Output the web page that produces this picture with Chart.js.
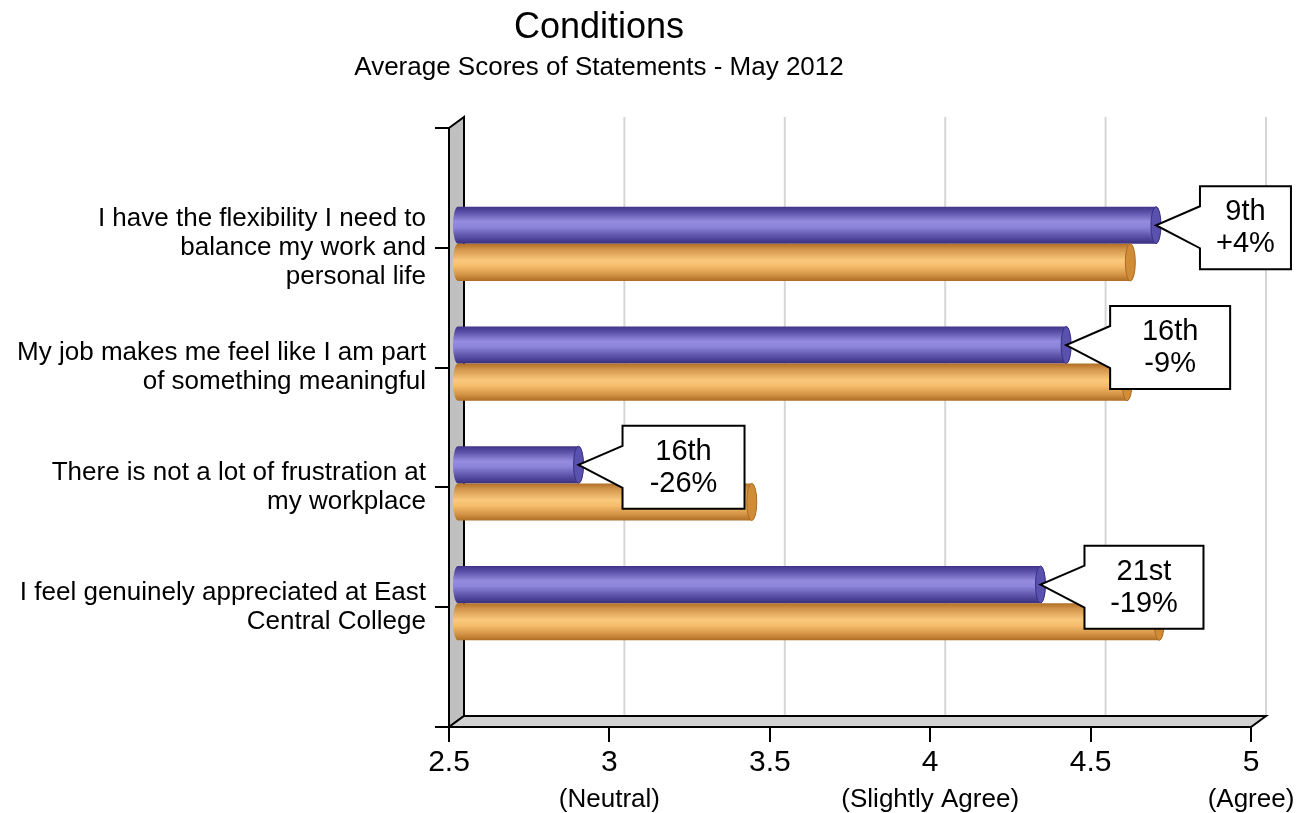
<!DOCTYPE html>
<html>
<head>
<meta charset="utf-8">
<title>Conditions</title>
<script src="https://cdn.jsdelivr.net/npm/chart.js@4.4.0/dist/chart.umd.min.js"></script>
<style>
  html, body { margin: 0; padding: 0; background: #fff; }
  #wrap { width: 1310px; height: 813px; }
</style>
</head>
<body>
<div id="wrap"><canvas id="chart" width="1310" height="813"></canvas></div>
<script>
// statements on the y axis, one entry per label line
const statements = [
  ["I have the flexibility I need to", "balance my work and", "personal life"],
  ["My job makes me feel like I am part", "of something meaningful"],
  ["There is not a lot of frustration at", "my workplace"],
  ["I feel genuinely appreciated at East", "Central College"],
];
const scoresCollege = [4.71, 4.43, 2.91, 4.35];     // purple bars
const scoresComparison = [4.63, 4.62, 3.45, 4.72];  // orange bars
const ranks = ["9th", "16th", "16th", "21st"];
const changes = ["+4%", "-9%", "-26%", "-19%"];
const scaleTicks = [2.5, 3, 3.5, 4, 4.5, 5];
const scaleNotes = ["", "(Neutral)", "", "(Slightly Agree)", "", "(Agree)"];

const FONT = "'Liberation Sans', Arial, Helvetica, sans-serif";
const DEPTH = { dx: 15, dy: -11 };     // back plane of the 3d frame
const BAR_SHIFT = { dx: 3, dy: -4 };   // bars sit a little inside the frame
const CAP_R = 5;
const CALLOUT_W = [91, 120, 122, 119];
const SHADES = [
  {
    stops: [[0, "#3f3487"], [0.15, "#5a50a8"], [0.4, "#958ce0"], [0.55, "#8c84d8"], [0.8, "#5b51a8"], [1, "#392f7e"]],
    cap: "#5a50ad", edge: "#3b3184",
  },
  {
    stops: [[0, "#b06e26"], [0.15, "#d2954a"], [0.45, "#fac87c"], [0.6, "#f5bd6c"], [0.85, "#d09042"], [1, "#ad6c24"]],
    cap: "#d08c36", edge: "#ad6c22",
  },
];

// slots 0 and n+1 are empty so the statements sit on whole-number ticks
const slots = Array.from({ length: statements.length + 2 }, (_, i) => i);

function polygon(ctx, pts) {
  ctx.beginPath();
  pts.forEach(([px, py], i) => (i ? ctx.lineTo(px, py) : ctx.moveTo(px, py)));
  ctx.closePath();
  ctx.fill();
  ctx.stroke();
}

// title, back grid lines, side wall and floor
const frame3d = {
  id: "frame3d",
  beforeDraw(chart) {
    const { ctx, chartArea: a } = chart;
    const x = chart.scales.x;
    ctx.save();
    ctx.fillStyle = "#000";
    ctx.textAlign = "center";
    ctx.textBaseline = "alphabetic";
    ctx.font = "36px " + FONT;
    ctx.fillText("Conditions", 599, 38);
    ctx.font = "26px " + FONT;
    ctx.fillText("Average Scores of Statements - May 2012", 599, 75);

    ctx.strokeStyle = "#d6d6d6";
    ctx.lineWidth = 2;
    scaleTicks.slice(1).forEach(v => {
      const px = x.getPixelForValue(v) + DEPTH.dx;
      ctx.beginPath();
      ctx.moveTo(px, a.top + DEPTH.dy);
      ctx.lineTo(px, a.bottom + DEPTH.dy);
      ctx.stroke();
    });

    ctx.strokeStyle = "#000";
    ctx.lineJoin = "miter";
    ctx.fillStyle = "#c0c0c0";
    polygon(ctx, [[a.left, a.top], [a.left + DEPTH.dx, a.top + DEPTH.dy],
      [a.left + DEPTH.dx, a.bottom + DEPTH.dy], [a.left, a.bottom]]);
    ctx.fillStyle = "#d2d2d2";
    polygon(ctx, [[a.left, a.bottom], [a.left + DEPTH.dx, a.bottom + DEPTH.dy],
      [a.right + DEPTH.dx, a.bottom + DEPTH.dy], [a.right, a.bottom]]);
    ctx.restore();
  },
};

function drawCylinder(ctx, x0, x1, cy, h, shade) {
  const top = cy - h / 2, bottom = cy + h / 2;
  const g = ctx.createLinearGradient(0, top, 0, bottom);
  shade.stops.forEach(([o, c]) => g.addColorStop(o, c));
  ctx.beginPath();
  ctx.moveTo(x0 + CAP_R, top);
  ctx.lineTo(x1 - CAP_R, top);
  ctx.ellipse(x1 - CAP_R, cy, CAP_R, h / 2, 0, -Math.PI / 2, Math.PI / 2);
  ctx.lineTo(x0 + CAP_R, bottom);
  ctx.ellipse(x0 + CAP_R, cy, CAP_R, h / 2, 0, Math.PI / 2, Math.PI * 1.5);
  ctx.closePath();
  ctx.fillStyle = g;
  ctx.fill();
  ctx.beginPath();
  ctx.ellipse(x1 - CAP_R, cy, CAP_R, h / 2, 0, 0, Math.PI * 2);
  ctx.fillStyle = shade.cap;
  ctx.fill();
  ctx.strokeStyle = shade.edge;
  ctx.lineWidth = 1;
  ctx.stroke();
}

// bars are drawn as cylinders from the bar elements, then the rank callouts
const cylinders = {
  id: "cylinders",
  beforeDatasetDraw() {
    return false;
  },
  afterDatasetsDraw(chart) {
    const ctx = chart.ctx;
    ctx.save();
    chart.data.datasets.forEach((ds, di) => {
      chart.getDatasetMeta(di).data.forEach(bar => {
        const { x, y, base, height } = bar.getProps(["x", "y", "base", "height"], true);
        drawCylinder(ctx, base + BAR_SHIFT.dx, x + BAR_SHIFT.dx, y + BAR_SHIFT.dy, height, SHADES[di]);
      });
    });

    chart.getDatasetMeta(0).data.forEach((bar, i) => {
      const { x, y } = bar.getProps(["x", "y"], true);
      const tipX = x + BAR_SHIFT.dx - CAP_R, tipY = y + BAR_SHIFT.dy;
      const left = tipX + 44, top = tipY - 39, w = CALLOUT_W[i], h = 83;
      ctx.beginPath();
      ctx.moveTo(left, top);
      ctx.lineTo(left + w, top);
      ctx.lineTo(left + w, top + h);
      ctx.lineTo(left, top + h);
      ctx.lineTo(left, tipY + 23);
      ctx.lineTo(tipX, tipY);
      ctx.lineTo(left, tipY - 19);
      ctx.closePath();
      ctx.fillStyle = "#fff";
      ctx.fill();
      ctx.strokeStyle = "#000";
      ctx.lineWidth = 2;
      ctx.lineJoin = "miter";
      ctx.stroke();
      ctx.fillStyle = "#000";
      ctx.font = "29px " + FONT;
      ctx.textAlign = "center";
      ctx.textBaseline = "middle";
      ctx.fillText(ranks[i], left + w / 2, tipY - 13);
      ctx.fillText(changes[i], left + w / 2, tipY + 19);
    });
    ctx.restore();
  },
};

new Chart(document.getElementById("chart"), {
  type: "bar",
  data: {
    datasets: [
      {
        label: "East Central College",
        data: scoresCollege.map((v, i) => ({ x: v, y: i + 1 })),
        base: scaleTicks[0],
        backgroundColor: "#6b62c0",
      },
      {
        label: "Comparison",
        data: scoresComparison.map((v, i) => ({ x: v, y: i + 1 })),
        base: scaleTicks[0],
        backgroundColor: "#eaa652",
      },
    ],
  },
  options: {
    indexAxis: "y",
    responsive: false,
    animation: false,
    events: [],
    categoryPercentage: 0.62,
    barPercentage: 1,
    layout: { padding: { top: 128, right: 59, bottom: 0, left: 0 } },
    plugins: {
      legend: { display: false },
      tooltip: { enabled: false },
      title: { display: false },
    },
    scales: {
      x: {
        type: "linear",
        position: "bottom",
        weight: 0,
        beginAtZero: false,
        min: scaleTicks[0],
        max: scaleTicks[scaleTicks.length - 1],
        afterBuildTicks: s => { s.ticks = scaleTicks.map(v => ({ value: v })); },
        afterFit: s => { s.height = 46; },
        grid: { drawOnChartArea: false, drawTicks: true, tickLength: 15, color: "#000", lineWidth: 2 },
        border: { display: true, color: "#000", width: 2 },
        ticks: {
          font: { family: FONT, size: 30 },
          color: "#000",
          padding: 3,
          maxRotation: 0,
          autoSkip: false,
          callback: (v, i) => String(scaleTicks[i]),
        },
      },
      x2: {
        type: "linear",
        position: "bottom",
        weight: 1,
        beginAtZero: false,
        min: scaleTicks[0],
        max: scaleTicks[scaleTicks.length - 1],
        afterBuildTicks: s => { s.ticks = scaleTicks.map(v => ({ value: v })); },
        afterFit: s => { s.height = 40; },
        grid: { display: false },
        border: { display: false },
        ticks: {
          font: { family: FONT, size: 26 },
          color: "#000",
          padding: 3,
          maxRotation: 0,
          autoSkip: false,
          callback: (v, i) => scaleNotes[i],
        },
      },
      y: {
        type: "linear",
        position: "left",
        reverse: true,
        offset: false,
        min: 0,
        max: statements.length + 1,
        afterBuildTicks: s => { s.ticks = slots.map(v => ({ value: v })); },
        afterFit: s => { s.width = 449; },
        grid: { offset: false, drawOnChartArea: false, drawTicks: true, tickLength: 14, color: "#000", lineWidth: 2 },
        border: { display: true, color: "#000", width: 2 },
        ticks: {
          font: { family: FONT, size: 26, lineHeight: 1.12 },
          color: "#000",
          padding: 9,
          autoSkip: false,
          callback: v => statements[v - 1] || "",
        },
      },
    },
  },
  plugins: [frame3d, cylinders],
});
</script>
</body>
</html>
